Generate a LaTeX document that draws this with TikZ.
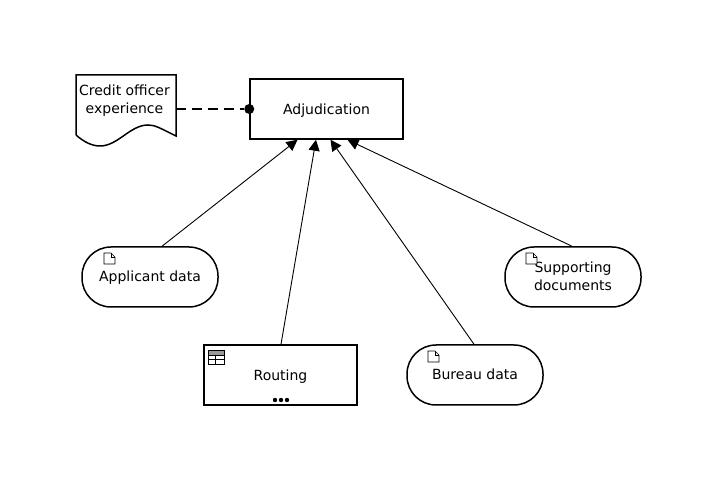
\documentclass[tikz,border=0pt]{standalone}
\usepackage{fontspec}
\setmainfont{DejaVu Sans}
\usepackage{tikz}
\usetikzlibrary{arrows.meta,positioning}
\tikzset{
  box/.style={draw,line width=1.5pt,minimum width=153pt,minimum height=60pt,inner sep=0pt,font=\fontsize{14pt}{18pt}\selectfont,align=center},
  datapill/.style={box,rounded corners=29pt,minimum width=136pt},
  oneline/.style={text height=11.5pt,text depth=2pt},
  plain/.style={inner sep=0pt,font=\fontsize{14pt}{18pt}\selectfont,align=center},
  flow/.style={line width=0.9pt,-{Triangle[length=11pt,width=11pt]}},
  icon/.style={line width=0.7pt}
}
\begin{document}
\begin{tikzpicture}[x=1pt,y=-1pt]
  \useasboundingbox (0,0) rectangle (716,481);
  \node [box,oneline,text height=12.5pt] (adjudication) at (326.5,109) {Adjudication};
  \node [minimum width=100pt,minimum height=68pt,inner sep=0pt] (credit) at (126,109) {};
  \node [plain] (credittext) at (124.5,100.5) {Credit officer\\experience};
  \node [datapill,oneline] (applicant) at (150,277) {Applicant data};
  \node [box,oneline,text height=12.5pt] (routing) at (280.5,375) {Routing};
  \node [datapill,oneline] (bureau) at (475,375) {Bureau data};
  \node [datapill,text depth=2pt] (supporting) at (573,277) {Supporting\\documents};
  \draw [line width=1.5pt] (76,135) -- (76,75) -- (176,75) -- (176,136)
    .. controls (160,128) and (155,125) .. (148,125)
    .. controls (130,125) and (118,146) .. (100,146)
    .. controls (92,146) and (84,142) .. (76,135);
  \node [circle,fill,inner sep=0pt,minimum size=10pt] (dot) at (adjudication.west) {};
  \draw [line width=1.5pt,dash pattern=on 10pt off 6pt] (credit.east) -- (dot);
  \draw [flow] ([xshift=12pt]applicant.north) -- ([xshift=-29pt]adjudication.south);
  \draw [flow] ([xshift=0.5pt]routing.north) -- ([xshift=-10.5pt]adjudication.south);
  \draw [flow] ([xshift=-1pt]bureau.north) -- ([xshift=4pt]adjudication.south);
  \draw [flow] ([xshift=-1pt]supporting.north) -- ([xshift=21pt]adjudication.south);
  \foreach \x/\y in {104/253,428/351,526/253} {
    \draw [icon,fill=white] (\x,\y) -- (\x+7,\y) -- (\x+11,\y+4) -- (\x+11,\y+11) -- (\x,\y+11) -- cycle;
    \draw [icon] (\x+7,\y) -- (\x+7,\y+4) -- (\x+11,\y+4);
  }
  \fill [gray!80] (208,350.5) rectangle (224,355.5);
  \draw [icon] (208,350.5) rectangle (224,364);
  \draw [icon] (208,355.5) -- (224,355.5) (208,359.5) -- (224,359.5) (215,355.5) -- (215,364);
  \foreach \x in {275,281,287} {
    \fill (\x,400) circle (2.2pt);
  }
\end{tikzpicture}
\end{document}
